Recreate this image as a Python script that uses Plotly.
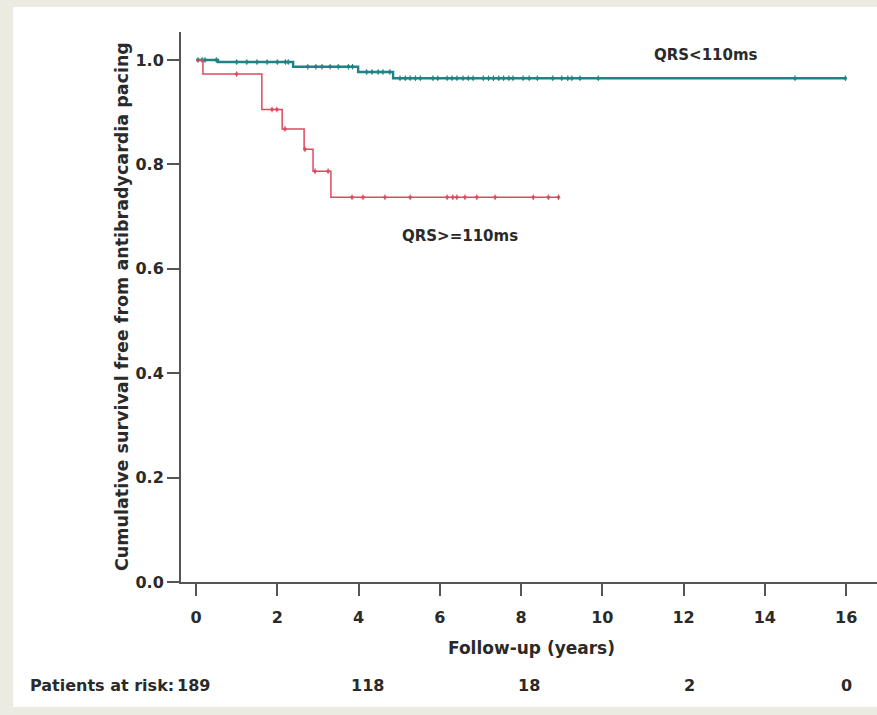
import numpy as np
import plotly.graph_objects as go

# ---- data ----
teal_times = [0.0, 0.54, 2.39, 3.99, 4.85]
teal_surv = [1.0, 0.996, 0.987, 0.977, 0.965]
teal_end = 15.98
teal_censor = [0.05, 0.15, 0.22, 0.5, 1.0, 1.25, 1.5, 1.75, 2.0, 2.2, 2.27, 2.75, 2.95,
               3.1, 3.3, 3.5, 3.75, 3.85, 4.2, 4.33, 4.48, 4.6, 4.77, 5.02, 5.15, 5.27,
               5.4, 5.52, 5.83, 5.95, 6.18, 6.3, 6.42, 6.57, 6.7, 6.82, 7.07, 7.2, 7.32,
               7.45, 7.57, 7.7, 7.8, 8.05, 8.2, 8.4, 8.78, 9.0, 9.15, 9.25, 9.45, 9.9,
               14.74, 15.98]

red_times = [0.0, 0.17, 1.62, 2.12, 2.66, 2.88, 3.32]
red_surv = [1.0, 0.973, 0.905, 0.868, 0.829, 0.787, 0.737]
red_end = 8.96
red_censor = [1.0, 1.87, 1.99, 2.19, 2.68, 2.93, 3.25, 3.84, 4.11, 4.65, 5.27, 6.18,
              6.32, 6.42, 6.62, 6.91, 7.36, 8.3, 8.67, 8.92]

x_ticks = [0, 2, 4, 6, 8, 10, 12, 14, 16]
y_ticks = [0.0, 0.2, 0.4, 0.6, 0.8, 1.0]
risk_times = [0, 4, 8, 12, 16]
risk_counts = ["189", "118", "18", "2", "0"]
risk_shift = [-3, 9, 8, 6, 0]

TEAL = "#1f8286"
RED = "#e0485f"
FONT = "DejaVu Sans"
TXT = "#2a2a2a"


def step(times, surv, end):
    xs = list(times) + [end]
    ys = list(surv) + [surv[-1]]
    return xs, ys


def at(times, surv, t):
    idx = np.searchsorted(np.array(times), np.array(t), side="right") - 1
    return [surv[i] for i in idx]


fig = go.Figure()

for times, surv, end, cens, col, w in [
    (teal_times, teal_surv, teal_end, teal_censor, TEAL, 2.4),
    (red_times, red_surv, red_end, red_censor, RED, 1.5),
]:
    xs, ys = step(times, surv, end)
    fig.add_trace(go.Scatter(x=xs, y=ys, mode="lines", line=dict(color=col, width=w, shape="hv"),
                             showlegend=False, hoverinfo="skip"))
    fig.add_trace(go.Scatter(x=cens, y=at(times, surv, cens), mode="markers",
                             marker=dict(symbol="line-ns-open", size=4, color=col,
                                         line=dict(color=col, width=1)),
                             showlegend=False, hoverinfo="skip"))
    fig.add_trace(go.Scatter(x=cens, y=at(times, surv, cens), mode="markers",
                             marker=dict(symbol="circle", size=3.5, color=col),
                             showlegend=False, hoverinfo="skip"))

W, H = 877, 715
L, R, T, B = 181, 0, 32, 133
pw, ph = W - L - R, H - T - B


def px(xp):
    return (xp - L) / pw


def py(yp):
    return (H - B - yp) / ph


def f(size):
    return dict(family=FONT, size=size, color=TXT)


annotations = [
    dict(x=12.55, y=1.01, xref="x", yref="y", text="<b>QRS&lt;110ms</b>", showarrow=False,
         xanchor="center", yanchor="middle", font=f(15)),
    dict(x=6.5, y=0.663, xref="x", yref="y", text="<b>QRS&gt;=110ms</b>", showarrow=False,
         xanchor="center", yanchor="middle", font=f(15)),
    dict(x=px(531), y=py(648), xref="paper", yref="paper", text="<b>Follow-up (years)</b>",
         xanchor="center", yanchor="middle", showarrow=False, font=f(17)),
    dict(x=px(122), y=py(307), xref="paper", yref="paper", textangle=-90,
         text="<b>Cumulative survival free from antibradycardia pacing</b>",
         xanchor="center", yanchor="middle", showarrow=False, font=f(17.5)),
    dict(x=px(28), y=py(686), xref="paper", yref="paper", text="<b>Patients at risk:</b>",
         xanchor="left", yanchor="middle", showarrow=False, font=f(16)),
]
for t, c, s in zip(risk_times, risk_counts, risk_shift):
    annotations.append(dict(x=t, y=py(686), xref="x", yref="paper", text=f"<b>{c}</b>", xshift=s,
                            xanchor="center", yanchor="middle", showarrow=False, font=f(16)))

fig.update_layout(
    width=W, height=H,
    margin=dict(l=L, r=R, t=T, b=B, pad=0),
    paper_bgcolor="#ecebe1",
    plot_bgcolor="white",
    shapes=[dict(type="rect", xref="paper", yref="paper", x0=px(13), x1=px(W + 5), y0=py(707), y1=py(7),
                 fillcolor="white", line=dict(width=0), layer="below")],
    annotations=annotations,
    xaxis=dict(range=[-0.37, 16.76], tickvals=x_ticks, ticktext=[f"<b>{v}</b>" for v in x_ticks],
               showgrid=False, zeroline=False, showline=True, linecolor="#555", linewidth=2,
               ticks="outside", ticklen=12, tickwidth=2, tickcolor="#555", ticklabelstandoff=8,
               tickfont=f(16)),
    yaxis=dict(range=[0, 1.0536], tickvals=y_ticks, ticktext=[f"<b>{v:.1f}</b>" for v in y_ticks],
               showgrid=False, zeroline=False, showline=True, linecolor="#555", linewidth=2,
               ticks="outside", ticklen=12, tickwidth=2, tickcolor="#555",
               tickfont=f(16)),
)

fig.write_html("out.html", config={"displayModeBar": False},
               post_script="document.body.style.margin='0';document.body.style.background='#ecebe1';"
                           "document.body.style.overflow='hidden';")
